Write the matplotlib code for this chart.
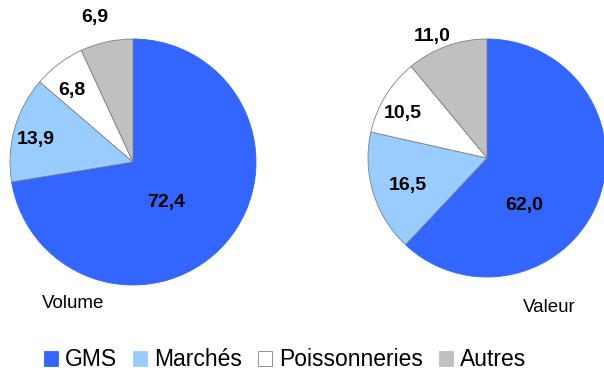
import matplotlib.pyplot as plt
from matplotlib.patches import Patch

plt.rcParams['font.family'] = ['Liberation Sans', 'DejaVu Sans']

categories = ['GMS', 'Marchés', 'Poissonneries', 'Autres']
volume = [72.4, 13.9, 6.8, 6.9]
valeur = [62.0, 16.5, 10.5, 11.0]
colors = ['#3366ff', '#99ccff', '#ffffff', '#c0c0c0']

# label spots in pie units (Excel "best fit" style)
vol_pos = [(0.268, -0.333), (-0.789, 0.179), (-0.496, 0.585), (-0.309, 1.171)]
val_pos = [(0.311, -0.395), (-0.664, -0.235), (-0.706, 0.378), (-0.462, 1.025)]

W, H = 604, 370
fig = plt.figure(figsize=(W / 100, H / 100), dpi=100)


def draw(cx, cy, r, values, pos, title, tx, ty):
    ax = fig.add_axes([(cx - r) / W, (H - cy - r) / H, 2 * r / W, 2 * r / H])
    wedges, _ = ax.pie(values, colors=colors, startangle=90, counterclock=False,
                       wedgeprops=dict(edgecolor='#808080', linewidth=0.6))
    wedges[0].set_edgecolor(colors[0])
    for v, (x, y) in zip(values, pos):
        ax.text(x, y, f'{v:.1f}'.replace('.', ','), ha='center', va='center',
                fontsize=14, fontweight='bold')
    ax.set_xlim(-1, 1)
    ax.set_ylim(-1, 1)
    ax.set_aspect('equal')
    ax.axis('off')
    fig.text(tx / W, 1 - ty / H, title, ha='center', va='center', fontsize=13.5)


draw(133, 162, 123, volume, vol_pos, 'Volume', 73, 303)
draw(487, 158, 119, valeur, val_pos, 'Valeur', 549, 308)

handles = [Patch(facecolor=c, edgecolor='#808080' if c == '#ffffff' else c, linewidth=0.6)
           for c in colors]
fig.legend(handles, categories, loc='center', bbox_to_anchor=(285 / W, 1 - 360 / H),
           ncol=4, frameon=False, fontsize=16.5, handlelength=0.62, handleheight=0.62,
           handletextpad=0.3, columnspacing=0.7, borderpad=0)

fig.savefig('out.png', dpi=100)
